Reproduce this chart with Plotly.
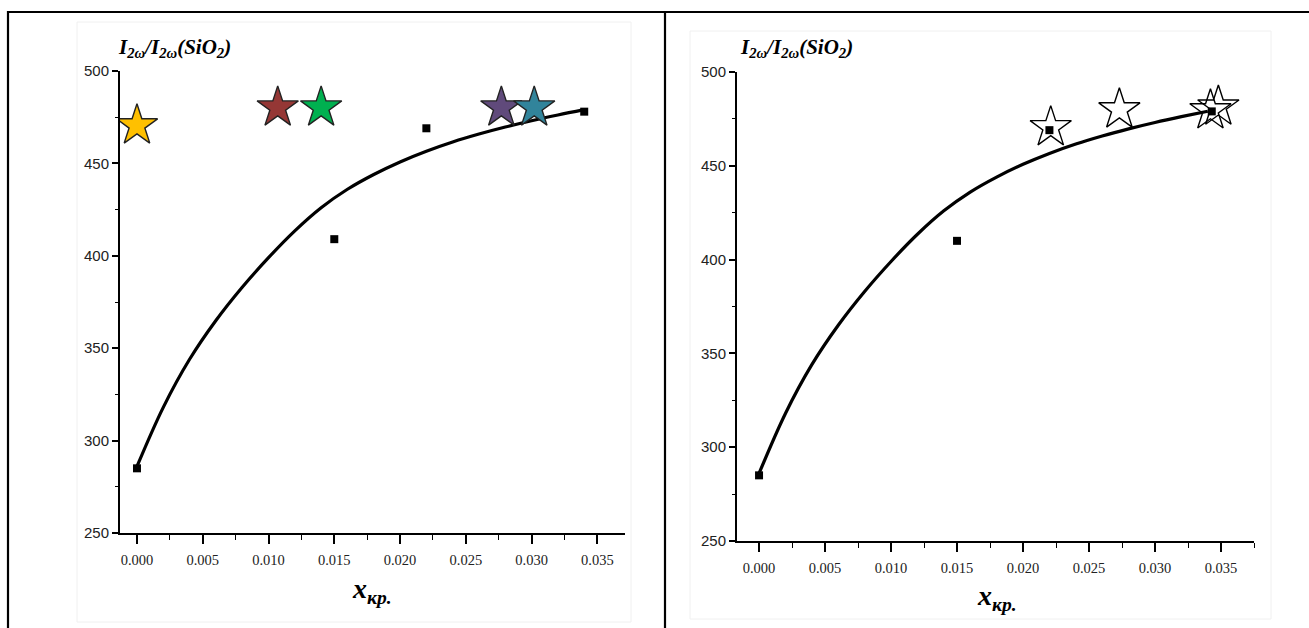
import plotly.graph_objects as go

W, H = 1309, 628

# ---------------- data ----------------
# measured points (black squares)
left_sq_x = [0.0, 0.015, 0.022, 0.034]
left_sq_y = [285, 409, 469, 478]
right_sq_x = [0.0, 0.015, 0.022, 0.0343]
right_sq_y = [285, 410, 469, 479]

# fitted curve
curve_x = [0.000, 0.002, 0.004, 0.006, 0.008, 0.010, 0.012, 0.014, 0.016,
           0.018, 0.020, 0.022, 0.024, 0.026, 0.028, 0.030, 0.032, 0.034]
curve_y = [286, 318, 344, 365, 383, 399, 413.5, 426, 436,
           444, 450.8, 456.6, 461.6, 465.9, 469.7, 473.1, 476.2, 479.1]

# coloured stars (left panel)
left_star_x = [0.0, 0.0107, 0.0140, 0.0277, 0.0302]
left_star_y = [470.5, 480.2, 480.2, 480.2, 480.2]
left_star_colors = ["#FFC000", "#953735", "#00B050", "#604A7B", "#31849B"]

# white stars (right panel)
right_star_x = [0.0221, 0.0273, 0.0342, 0.0348]
right_star_y = [470.5, 480.0, 479.5, 481.5]

y_ticks = [250, 300, 350, 400, 450, 500]
x_ticks = [0.000, 0.005, 0.010, 0.015, 0.020, 0.025, 0.030, 0.035]
x_tick_text = ["0.000", "0.005", "0.010", "0.015", "0.020", "0.025", "0.030", "0.035"]

y_title = "<b><i>I<sub>2ω</sub>/I<sub>2ω</sub>(SiO<sub>2</sub>)</i></b>"
x_title = "<b><i>x<sub>кр.</sub></i></b>"

# ---------------- helpers ----------------
def px(x):
    return x / W

def py(y):
    return 1 - y / H

fig = go.Figure()

# left panel traces
fig.add_trace(go.Scatter(x=curve_x, y=curve_y, mode="lines", line=dict(color="black", width=3.2, shape="spline"),
                         xaxis="x", yaxis="y", hoverinfo="skip"))
fig.add_trace(go.Scatter(x=left_sq_x, y=left_sq_y, mode="markers",
                         marker=dict(symbol="square", size=8, color="black"), xaxis="x", yaxis="y"))
fig.add_trace(go.Scatter(x=left_star_x, y=left_star_y, mode="markers",
                         marker=dict(symbol="star", size=31, color=left_star_colors,
                                     line=dict(color="#222222", width=1.4)), xaxis="x", yaxis="y"))

# right panel traces
fig.add_trace(go.Scatter(x=curve_x, y=curve_y, mode="lines", line=dict(color="black", width=3.2, shape="spline"),
                         xaxis="x2", yaxis="y2", hoverinfo="skip"))
fig.add_trace(go.Scatter(x=right_sq_x, y=right_sq_y, mode="markers",
                         marker=dict(symbol="square", size=8, color="black"), xaxis="x2", yaxis="y2"))
fig.add_trace(go.Scatter(x=right_star_x, y=right_star_y, mode="markers",
                         marker=dict(symbol="star-open", size=31, color="black",
                                     line=dict(color="black", width=1.4)), xaxis="x2", yaxis="y2"))

def xaxis_cfg(rng, domain, anchor):
    return dict(range=rng, domain=domain, anchor=anchor, showgrid=False, zeroline=False, automargin=False,
                showline=True, linecolor="black", linewidth=2,
                tickvals=x_ticks, ticktext=x_tick_text, ticks="outside", ticklen=9, tickwidth=1.6,
                tickcolor="black", ticklabelstandoff=4,
                tickfont=dict(family="Liberation Serif", size=14.5, color="#222222"),
                minor=dict(dtick=0.0025, tick0=0, ticks="outside", ticklen=5, tickwidth=1.4, tickcolor="black",
                           showgrid=False))

def yaxis_cfg(domain, anchor):
    return dict(range=[250, 500], domain=domain, anchor=anchor, showgrid=False, zeroline=False, automargin=False,
                showline=True, linecolor="black", linewidth=2,
                tickvals=y_ticks, ticks="outside", ticklen=6, tickwidth=1.6, tickcolor="black",
                tickfont=dict(family="Liberation Sans", size=15, color="#222222"),
                minor=dict(dtick=25, tick0=0, ticks="outside", ticklen=3, tickwidth=1.4, tickcolor="black",
                           showgrid=False))

fig.update_layout(
    width=W, height=H,
    margin=dict(l=0, r=0, t=0, b=0, pad=0, autoexpand=False),
    paper_bgcolor="white", plot_bgcolor="white",
    showlegend=False,
    xaxis=xaxis_cfg([-0.00129, 0.0371], [px(120), px(625)], "y"),
    yaxis=yaxis_cfg([py(533), py(71)], "x"),
    xaxis2=xaxis_cfg([-0.00167, 0.0375], [px(737), px(1254)], "y2"),
    yaxis2=yaxis_cfg([py(541), py(72)], "x2"),
)

annotations = [
    dict(text=y_title, x=px(116), y=py(48), xref="paper", yref="paper", xanchor="left", yanchor="middle",
         showarrow=False, font=dict(family="Liberation Serif", size=21, color="black")),
    dict(text=y_title, x=px(738), y=py(48), xref="paper", yref="paper", xanchor="left", yanchor="middle",
         showarrow=False, font=dict(family="Liberation Serif", size=21, color="black")),
    dict(text=x_title, x=px(372), y=py(590), xref="paper", yref="paper", xanchor="center", yanchor="middle",
         showarrow=False, font=dict(family="Liberation Serif", size=28, color="black")),
    dict(text=x_title, x=px(997), y=py(597), xref="paper", yref="paper", xanchor="center", yanchor="middle",
         showarrow=False, font=dict(family="Liberation Serif", size=28, color="black")),
]
fig.update_layout(annotations=annotations)

shapes = [
    # faint scan frames
    dict(type="rect", x0=px(77), x1=px(631), y0=py(622), y1=py(22), xref="paper", yref="paper",
         line=dict(color="#f0f0f0", width=1)),
    dict(type="rect", x0=px(690), x1=px(1271), y0=py(619), y1=py(31), xref="paper", yref="paper",
         line=dict(color="#f0f0f0", width=1)),
    # table borders
    dict(type="line", x0=px(7), x1=1, y0=py(12), y1=py(12), xref="paper", yref="paper",
         line=dict(color="black", width=2.2)),
    dict(type="line", x0=px(8), x1=px(8), y0=py(11), y1=0, xref="paper", yref="paper",
         line=dict(color="black", width=2.2)),
    dict(type="line", x0=px(665), x1=px(665), y0=py(11), y1=0, xref="paper", yref="paper",
         line=dict(color="black", width=2.2)),
]
fig.update_layout(shapes=shapes)

fig.write_html("out.html", config={"displayModeBar": False},
               post_script="document.body.style.margin='0';document.body.style.overflow='hidden';")
